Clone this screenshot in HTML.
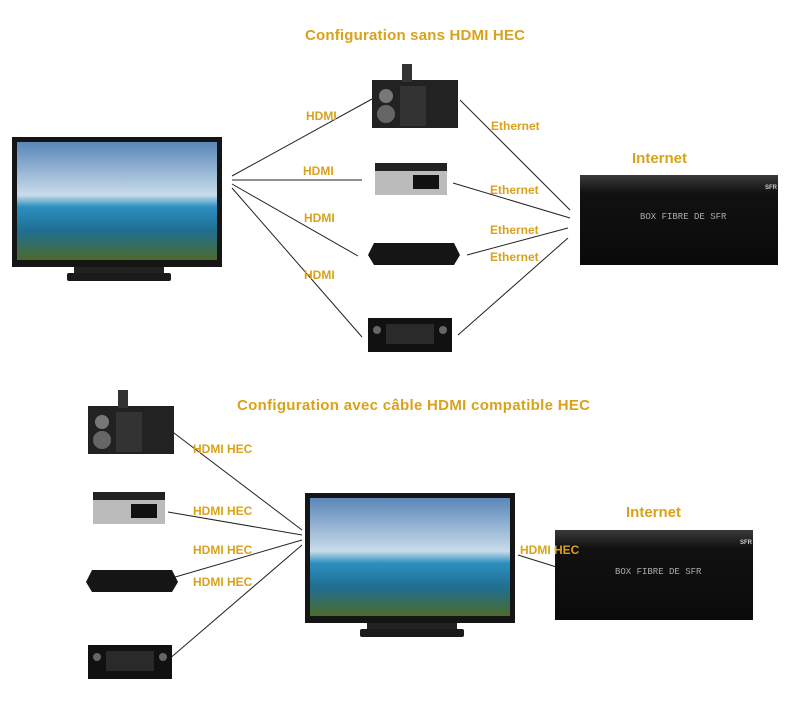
<!DOCTYPE html>
<html><head><meta charset="utf-8"><style>
html,body{margin:0;padding:0;background:#fff;}
svg text{font-family:"Liberation Sans",sans-serif;font-weight:bold;fill:#d9a21a;}
</style></head><body>
<svg width="800" height="720" viewBox="0 0 800 720" xmlns="http://www.w3.org/2000/svg">
<defs>
<linearGradient id="sky" x1="0" y1="0" x2="0" y2="1">
<stop offset="0" stop-color="#5a86b8"/><stop offset="0.45" stop-color="#c9dcea"/><stop offset="0.55" stop-color="#2e8fc0"/><stop offset="0.75" stop-color="#1f6f93"/><stop offset="1" stop-color="#4d6a2c"/>
</linearGradient>
<linearGradient id="box" x1="0" y1="0" x2="0" y2="1">
<stop offset="0" stop-color="#3a3a3a"/><stop offset="0.2" stop-color="#111"/><stop offset="1" stop-color="#0a0a0a"/>
</linearGradient>
<g id="tv">
<rect x="0" y="0" width="210" height="130" fill="#151515"/>
<rect x="5" y="5" width="200" height="118" fill="url(#sky)"/>
<rect x="62" y="130" width="90" height="6" fill="#222"/>
<rect x="55" y="136" width="104" height="8" rx="2" fill="#1a1a1a"/>
</g>
<g id="stereo">
<rect x="0" y="16" width="86" height="48" fill="#222"/>
<rect x="30" y="0" width="10" height="18" fill="#333"/>
<circle cx="14" cy="32" r="7" fill="#777"/><circle cx="14" cy="50" r="9" fill="#666"/>
<rect x="28" y="22" width="26" height="40" fill="#333"/>
</g>
<g id="nuc">
<rect x="0" y="0" width="72" height="8" fill="#222"/>
<rect x="0" y="8" width="72" height="24" fill="#bbb"/>
<rect x="38" y="12" width="26" height="14" fill="#111"/>
</g>
<g id="bluray">
<path d="M6,0 L86,0 L92,12 L86,22 L6,22 L0,12 Z" fill="#151515"/>
</g>
<g id="recv">
<rect x="0" y="0" width="84" height="34" fill="#111"/>
<rect x="18" y="6" width="48" height="20" fill="#2a2a2a"/>
<circle cx="9" cy="12" r="4" fill="#666"/><circle cx="75" cy="12" r="4" fill="#666"/>
</g>
<g id="sfr">
<rect x="0" y="0" width="198" height="90" fill="url(#box)"/>
<text x="60" y="44" style="font-family:'Liberation Mono',monospace;font-weight:normal;font-size:9px;fill:#aaa">BOX FIBRE DE SFR</text>
<text x="185" y="14" style="font-size:6px;fill:#ccc">SFR</text>
</g>
</defs>

<text x="305" y="40" font-size="15" textLength="220">Configuration sans HDMI HEC</text>
<use href="#tv" x="12" y="137"/>
<g stroke="#222" stroke-width="1">
<line x1="232" y1="176" x2="372" y2="99"/>
<line x1="232" y1="180" x2="362" y2="180"/>
<line x1="232" y1="184" x2="358" y2="256"/>
<line x1="232" y1="188" x2="362" y2="337"/>
<line x1="460" y1="100" x2="570" y2="210"/>
<line x1="453" y1="183" x2="570" y2="218"/>
<line x1="467" y1="255" x2="568" y2="228"/>
<line x1="458" y1="335" x2="568" y2="238"/>
</g>
<use href="#stereo" x="372" y="64"/>
<use href="#nuc" x="375" y="163"/>
<use href="#bluray" x="368" y="243"/>
<use href="#recv" x="368" y="318"/>
<use href="#sfr" x="580" y="175"/>
<text x="632" y="163" font-size="15">Internet</text>
<g font-size="12">
<text x="306" y="120">HDMI</text>
<text x="303" y="175">HDMI</text>
<text x="304" y="222">HDMI</text>
<text x="304" y="279">HDMI</text>
<text x="491" y="130">Ethernet</text>
<text x="490" y="194">Ethernet</text>
<text x="490" y="234">Ethernet</text>
<text x="490" y="261">Ethernet</text>
</g>

<text x="237" y="410" font-size="15" textLength="353">Configuration avec câble HDMI compatible HEC</text>
<use href="#tv" x="305" y="493"/>
<g stroke="#222" stroke-width="1">
<line x1="170" y1="430" x2="302" y2="530"/>
<line x1="168" y1="512" x2="302" y2="535"/>
<line x1="165" y1="580" x2="302" y2="540"/>
<line x1="168" y1="660" x2="302" y2="545"/>
<line x1="518" y1="555" x2="582" y2="575"/>
</g>
<use href="#stereo" x="88" y="390"/>
<use href="#nuc" x="93" y="492"/>
<use href="#bluray" x="86" y="570"/>
<use href="#recv" x="88" y="645"/>
<use href="#sfr" x="555" y="530"/>
<text x="626" y="517" font-size="15">Internet</text>
<g font-size="12">
<text x="193" y="453">HDMI HEC</text>
<text x="193" y="515">HDMI HEC</text>
<text x="193" y="554">HDMI HEC</text>
<text x="193" y="586">HDMI HEC</text>
<text x="520" y="554">HDMI HEC</text>
</g>
</svg>
</body></html>
